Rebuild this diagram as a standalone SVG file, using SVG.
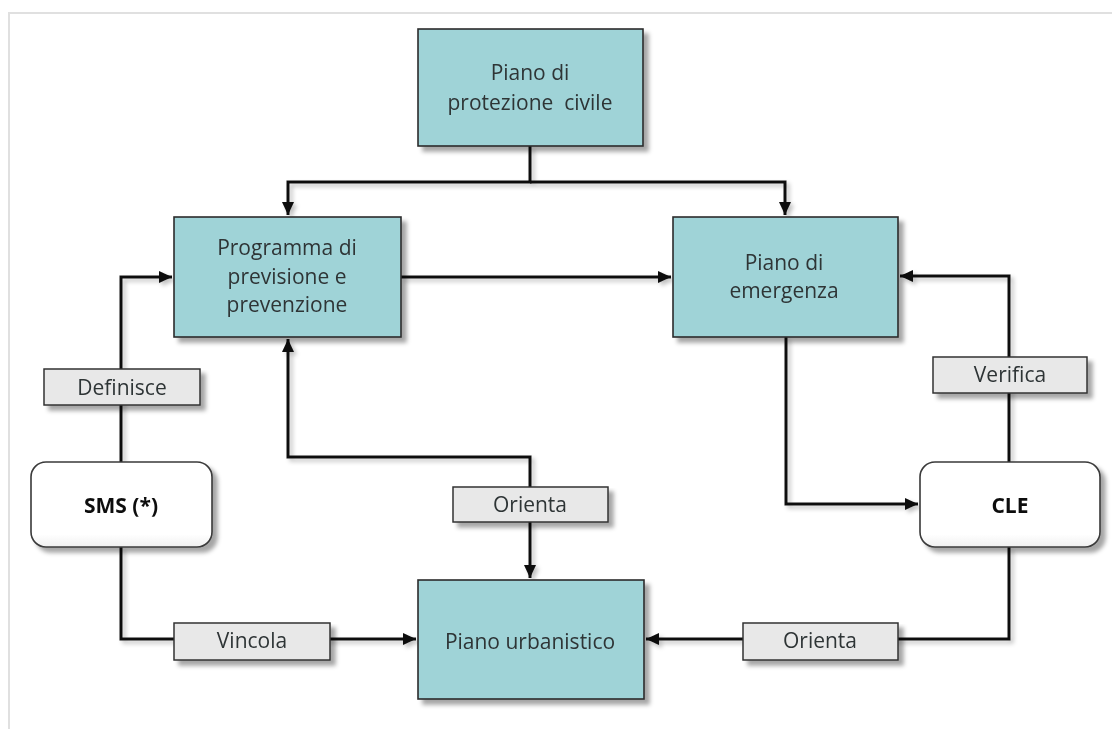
<svg xmlns="http://www.w3.org/2000/svg" width="1112" height="729" viewBox="0 0 1112 729">
  <style>
    .box { fill: #9fd3d7; stroke: #2b2b2b; stroke-width: 1.6; }
    .rbox { fill: url(#rg); stroke: #3a3a3a; stroke-width: 1.6; }
    .lbl { fill: #e8e8e8; stroke: #333; stroke-width: 1.5; }
    .t { font-family: "Open Sans", "Liberation Sans", sans-serif; font-size: 21px; fill: #2e3436; text-anchor: middle; }
    .tb { font-weight: bold; fill: #111; }
    .c { fill: none; stroke: #111; stroke-width: 3; }
  </style>
  <defs>
    <filter id="sh" x="-10%" y="-10%" width="130%" height="140%">
      <feGaussianBlur in="SourceAlpha" stdDeviation="2.2"/>
      <feOffset dx="5" dy="5" result="o"/>
      <feFlood flood-color="#000" flood-opacity="0.35"/>
      <feComposite in2="o" operator="in"/>
      <feMerge><feMergeNode/><feMergeNode in="SourceGraphic"/></feMerge>
    </filter>
    <filter id="shl" x="-5%" y="-5%" width="120%" height="120%">
      <feGaussianBlur in="SourceAlpha" stdDeviation="2"/>
      <feOffset dx="3" dy="3" result="o"/>
      <feFlood flood-color="#000" flood-opacity="0.25"/>
      <feComposite in2="o" operator="in"/>
      <feMerge><feMergeNode/><feMergeNode in="SourceGraphic"/></feMerge>
    </filter>
    <linearGradient id="rg" x1="0" y1="0" x2="0" y2="1">
      <stop offset="0" stop-color="#ffffff"/>
      <stop offset="0.85" stop-color="#ffffff"/>
      <stop offset="1" stop-color="#f0f0f0"/>
    </linearGradient>
    <marker id="ah" markerUnits="userSpaceOnUse" markerWidth="14" markerHeight="14" refX="13" refY="7" orient="auto">
      <path d="M0,1 L13,7 L0,13 z" fill="#111"/>
    </marker>
  </defs>

  <rect x="0" y="0" width="1112" height="729" fill="#ffffff"/>
  <path d="M9,729 V13 H1112" fill="none" stroke="#e0e0e0" stroke-width="2"/>

  <g id="connectors" filter="url(#shl)">
    <path class="c" d="M530,146 V182 H288 V215" marker-end="url(#ah)"/>
    <path class="c" d="M530,182 H785 V215" marker-end="url(#ah)"/>
    <path class="c" d="M401,277 H671" marker-end="url(#ah)"/>
    <path class="c" d="M121,462 V277 H172" marker-end="url(#ah)"/>
    <path class="c" d="M1009,462 V276 H900" marker-end="url(#ah)"/>
    <path class="c" d="M786,337 V504 H918" marker-end="url(#ah)"/>
    <path class="c" d="M530,487 V457 H288 V339" marker-end="url(#ah)"/>
    <path class="c" d="M530,522 V578" marker-end="url(#ah)"/>
    <path class="c" d="M121,547 V639 H416" marker-end="url(#ah)"/>
    <path class="c" d="M1009,547 V639 H646" marker-end="url(#ah)"/>
  </g>

  <g id="node-protezione" filter="url(#sh)">
    <rect class="box" x="418" y="29" width="225" height="117"/>
    <text class="t" x="530" y="80">Piano di</text>
    <text class="t" x="530" y="110" xml:space="preserve">protezione  civile</text>
  </g>
  <g id="node-programma" filter="url(#sh)">
    <rect class="box" x="174" y="217" width="227" height="120"/>
    <text class="t" x="287" y="255">Programma di</text>
    <text class="t" x="287" y="284">previsione e</text>
    <text class="t" x="287" y="312">prevenzione</text>
  </g>
  <g id="node-emergenza" filter="url(#sh)">
    <rect class="box" x="673" y="217" width="225" height="120"/>
    <text class="t" x="784" y="270">Piano di</text>
    <text class="t" x="784" y="298">emergenza</text>
  </g>
  <g id="node-urbanistico" filter="url(#sh)">
    <rect class="box" x="418" y="580" width="226" height="119"/>
    <text class="t" x="530" y="649">Piano urbanistico</text>
  </g>
  <g id="node-sms" filter="url(#sh)">
    <rect class="rbox" x="31" y="462" width="181" height="85" rx="15" ry="15"/>
    <text class="t tb" x="121" y="513">SMS (*)</text>
  </g>
  <g id="node-cle" filter="url(#sh)">
    <rect class="rbox" x="920" y="462" width="180" height="85" rx="15" ry="15"/>
    <text class="t tb" x="1010" y="513">CLE</text>
  </g>

  <g id="label-definisce" filter="url(#sh)">
    <rect class="lbl" x="44" y="369" width="156" height="36"/>
    <text class="t" x="122" y="395">Definisce</text>
  </g>
  <g id="label-verifica" filter="url(#sh)">
    <rect class="lbl" x="933" y="357" width="154" height="36"/>
    <text class="t" x="1010" y="382">Verifica</text>
  </g>
  <g id="label-orienta-1" filter="url(#sh)">
    <rect class="lbl" x="453" y="487" width="155" height="35"/>
    <text class="t" x="530" y="512">Orienta</text>
  </g>
  <g id="label-vincola" filter="url(#sh)">
    <rect class="lbl" x="174" y="623" width="156" height="37"/>
    <text class="t" x="252" y="648">Vincola</text>
  </g>
  <g id="label-orienta-2" filter="url(#sh)">
    <rect class="lbl" x="743" y="623" width="155" height="37"/>
    <text class="t" x="820" y="648">Orienta</text>
  </g>
</svg>
